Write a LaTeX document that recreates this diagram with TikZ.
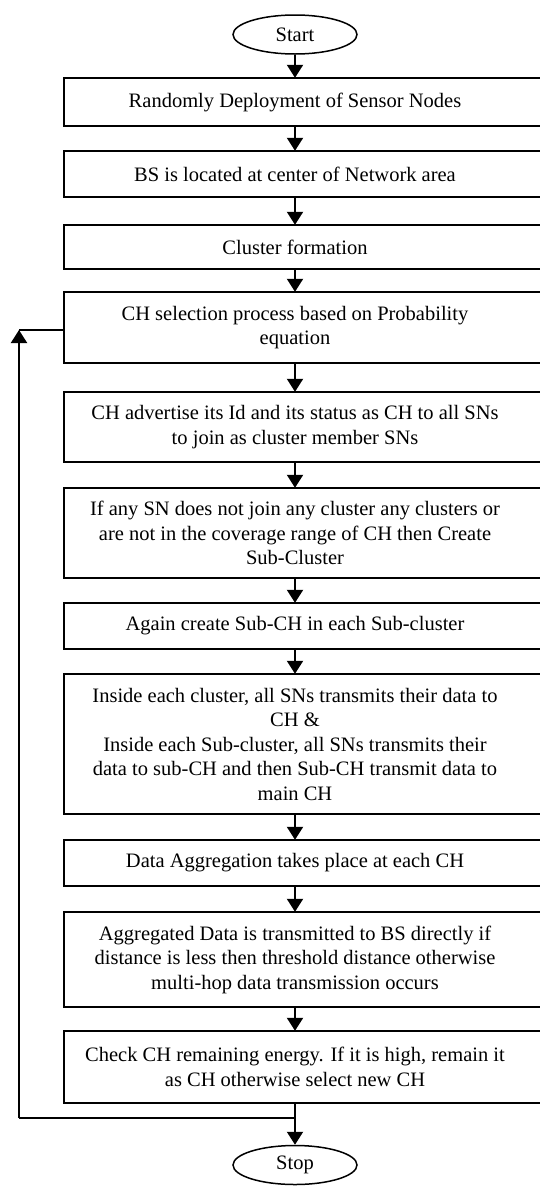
\documentclass[tikz,border=0pt]{standalone}
\usepackage{fontspec}
\setmainfont{Liberation Serif}
\usetikzlibrary{shapes.geometric, arrows.meta, calc}

\tikzset{
  stage/.style={align=center, inner sep=0pt, font=\fontsize{20.5}{24.5}\selectfont},
  terminal/.style={ellipse, draw, line width=1.5pt, minimum width=124pt, minimum height=39pt, inner sep=0pt, font=\fontsize{20.5}{24.5}\selectfont},
  frame/.style={line width=1.5pt},
  flow/.style={line width=2pt, -{Triangle[width=16pt,length=13pt]}},
  loop/.style={line width=2pt}
}

\begin{document}
\begin{tikzpicture}[x=1pt, y=-1pt]
\clip (0,0) rectangle (540,1189);

% left and right edges of the boxes
\coordinate (lft) at (64,0);
\coordinate (rgt) at (560,0);

\node[terminal] (start) at (295,34.5) {Start};

\node[stage, minimum height=48pt] (deploy) at (295,102) {Randomly Deployment of Sensor Nodes};
\node[stage, minimum height=46pt] (bsloc) at (295,174) {BS is located at center of Network area};
\node[stage, minimum height=44pt] (cluster) at (295,247) {Cluster formation};
\node[stage, minimum height=71pt] (chsel) at (295,327.5) {CH selection process based on Probability\\equation};
\node[stage, minimum height=70pt] (advert) at (295,427) {CH advertise its Id and its status as CH to all SNs\\to join as cluster member SNs};
\node[stage, minimum height=90pt] (subclus) at (295,533) {If any SN does not join any cluster any clusters or\\are not in the coverage range of CH then Create\\Sub-Cluster};
\node[stage, minimum height=46pt] (subch) at (295,626) {Again create Sub-CH in each Sub-cluster};
\node[stage, minimum height=140pt] (transmit) at (295,744) {Inside each cluster, all SNs transmits their data to\\CH \&\\Inside each Sub-cluster, all SNs transmits their\\data to sub-CH and then Sub-CH transmit data to\\main CH};
\node[stage, minimum height=46pt] (aggr) at (295,863) {Data Aggregation takes place at each CH};
\node[stage, minimum height=95pt] (tobs) at (295,959.5) {Aggregated Data is transmitted to BS directly if\\distance is less then threshold distance otherwise\\multi-hop data transmission occurs};
\node[stage, minimum height=72pt] (energy) at (295,1067) {Check CH remaining energy. If it is high, remain it\\as CH otherwise select new CH};

\node[terminal] (stop) at (295,1165) {Stop};

%Draw the boxes
\foreach \b in {deploy,bsloc,cluster,chsel,advert,subclus,subch,transmit,aggr,tobs,energy}
{
  \draw[frame] (\b.north -| lft) rectangle (\b.south -| rgt);
}

%Arrows down the chart
\foreach \a/\b in {start/deploy,deploy/bsloc,bsloc/cluster,cluster/chsel,chsel/advert,advert/subclus,subclus/subch,subch/transmit,transmit/aggr,aggr/tobs,tobs/energy,energy/stop}
{
  \draw[flow] (\a.south) -- (\b.north);
}

%Loop back to CH selection
\coordinate (backlow) at (19,1118);
\coordinate (backtop) at (19,330);
\draw[loop] (energy.south) |- (backlow);
\draw[flow] (backlow) -- (backtop);
\draw[loop] (backtop -| lft) -- (backtop);
\end{tikzpicture}
\end{document}
